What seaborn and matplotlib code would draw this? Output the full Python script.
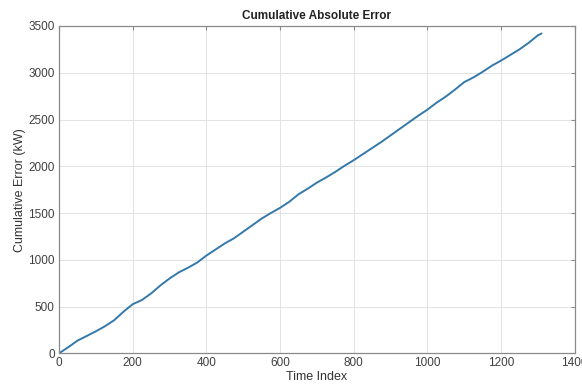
import numpy as np
import pandas as pd
import matplotlib
matplotlib.use("Agg")
import matplotlib.pyplot as plt
import seaborn as sns

time_index = [0, 25, 50, 75, 100, 125, 150, 175, 200, 225, 250, 275, 300, 325, 350,
              375, 400, 425, 450, 475, 500, 525, 550, 575, 600, 625, 650, 675, 700,
              725, 750, 775, 800, 825, 850, 875, 900, 925, 950, 975, 1000, 1025,
              1050, 1075, 1100, 1125, 1150, 1175, 1200, 1225, 1250, 1275, 1300, 1310]
cum_error = [0, 65, 135, 185, 235, 290, 355, 445, 525, 570, 640, 725, 800, 865, 915,
             970, 1045, 1110, 1175, 1230, 1300, 1370, 1440, 1500, 1555, 1620, 1700,
             1760, 1825, 1880, 1940, 2005, 2065, 2130, 2195, 2260, 2330, 2400, 2470,
             2540, 2605, 2680, 2745, 2820, 2900, 2950, 3010, 3075, 3130, 3190, 3250,
             3320, 3400, 3420]
x_ticks = [0, 200, 400, 600, 800, 1000, 1200, 1400]
y_ticks = [0, 500, 1000, 1500, 2000, 2500, 3000, 3500]

df = pd.DataFrame({"Time Index": time_index, "Cumulative Error (kW)": cum_error})

sns.set_theme(style="white")
plt.rcParams['font.family'] = ['Liberation Sans', 'DejaVu Sans']

fig = plt.figure(figsize=(5.82, 3.85), dpi=100)
ax = fig.add_axes([0.1014, 0.0823, 0.8861, 0.8502])

sns.lineplot(data=df, x="Time Index", y="Cumulative Error (kW)", ax=ax,
             color="#3479aa", linewidth=1.4)

ax.set_xlim(0, 1400)
ax.set_ylim(0, 3500)
ax.set_xticks(x_ticks)
ax.set_yticks(y_ticks)
ax.grid(True, color="#e3e3e3", linewidth=0.7)
ax.set_axisbelow(True)
for s in ax.spines.values():
    s.set_visible(True)
    s.set_color("#8a8a8a")
    s.set_linewidth(0.9)
ax.tick_params(axis="both", which="both", direction="in", length=3, width=0.8,
               color="#8a8a8a", labelsize=8.5, labelcolor="#404040",
               top=True, right=True, pad=3)
ax.set_xlabel("Time Index", fontsize=9, color="#333333", labelpad=1)
ax.set_ylabel("Cumulative Error (kW)", fontsize=9, color="#333333", labelpad=2)
ax.set_title("Cumulative Absolute Error", fontsize=8.5, fontweight="bold",
             color="#222222", pad=5)

fig.savefig("out.png", dpi=100)
